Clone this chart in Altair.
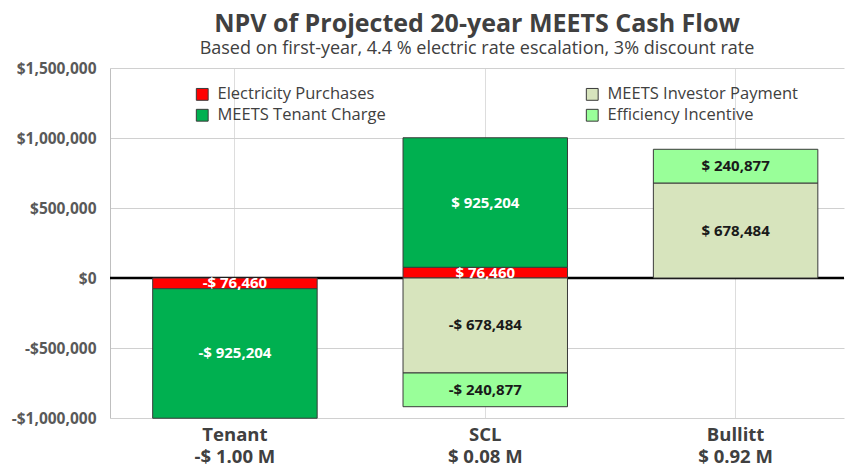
import altair as alt
import pandas as pd

categories = ["Tenant", "SCL", "Bullitt"]
# legend fills column by column: left column EP / TC, right column IP / EI
series = ["Electricity Purchases", "MEETS Tenant Charge", "MEETS Investor Payment", "Efficiency Incentive"]
stack_order = {"Electricity Purchases": 0, "MEETS Tenant Charge": 1,
               "MEETS Investor Payment": 2, "Efficiency Incentive": 3}
colors = ["#FF0000", "#00B050", "#D7E4BD", "#99FF99"]
text_colors = {"Electricity Purchases": "#FFFFFF", "MEETS Tenant Charge": "#FFFFFF",
               "MEETS Investor Payment": "#1A1A1A", "Efficiency Incentive": "#1A1A1A"}

electricity = [-76460, 76460, 0]
tenant_charge = [-925204, 925204, 0]
investor_payment = [0, -678484, 678484]
efficiency = [0, -240877, 240877]

values = {
    "Electricity Purchases": electricity,
    "MEETS Tenant Charge": tenant_charge,
    "MEETS Investor Payment": investor_payment,
    "Efficiency Incentive": efficiency,
}

def money(v):
    s = f"$ {abs(v):,.0f}"
    return ("-" if v < 0 else "") + s

totals = [sum(values[s][i] for s in values) for i in range(len(categories))]
def money_m(v):
    return ("-" if v < 0 else "") + f"$ {abs(v) / 1e6:.2f} M"

labels = [f"{c}\n{money_m(t)}" for c, t in zip(categories, totals)]

rows = []
for s, vals in values.items():
    for i, v in enumerate(vals):
        if v == 0:
            continue
        rows.append({"cat": labels[i], "series": s, "value": v,
                     "ord": stack_order[s], "txt": money(v), "tcol": text_colors[s]})
df = pd.DataFrame(rows)

FONT = "Open Sans"
GREY = "#404040"

xenc = alt.X("cat:N", sort=labels,
             scale=alt.Scale(paddingInner=0.343, paddingOuter=0.1375, align=0.62),
             axis=alt.Axis(title=None, labelAngle=0, ticks=False, domain=False,
                           labelExpr="split(datum.label, '\\n')",
                           labelFontSize=18.5, labelFontWeight="bold", labelColor=GREY,
                           labelFont=FONT, labelPadding=7, labelLineHeight=22))

bars = alt.Chart(df).mark_bar(stroke="#3A3A3A", strokeWidth=1).encode(
    x=xenc,
    y=alt.Y("value:Q", stack="zero",
            scale=alt.Scale(domain=[-1000000, 1500000], nice=False),
            axis=alt.Axis(title=None, values=[-1000000, -500000, 0, 500000, 1000000, 1500000],
                          labelExpr="(datum.value < 0 ? '-' : '') + '$' + format(abs(datum.value), ',')",
                          labelFontSize=15.5, labelFontWeight="bold", labelColor="#595959",
                          labelFont=FONT, ticks=False, domainColor="#BFBFBF",
                          gridColor="#D0D0D0", minExtent=102, maxExtent=102, labelPadding=14)),
    color=alt.Color("series:N", scale=alt.Scale(domain=series, range=colors),
                    legend=alt.Legend(title=None, orient="none", legendX=84, legendY=18,
                                      columns=2, columnPadding=198, rowPadding=4,
                                      symbolType="square", symbolSize=140,
                                      symbolStrokeColor="#3A3A3A", symbolStrokeWidth=1,
                                      labelFontSize=16.5, labelColor=GREY, labelFont=FONT,
                                      labelLimit=400, labelOffset=7)),
    order=alt.Order("ord:Q"),
)

texts = alt.Chart(df).transform_stack(
    stack="value", groupby=["cat"], as_=["y0", "y1"],
    sort=[alt.SortField("ord", order="ascending")], offset="zero"
).transform_calculate(
    ymid="(datum.y0 + datum.y1) / 2"
).mark_text(fontWeight="bold", fontSize=15, font=FONT, baseline="middle").encode(
    x=alt.X("cat:N", sort=labels),
    y=alt.Y("ymid:Q"),
    text="txt:N",
    color=alt.Color("tcol:N", scale=None),
)

zero = alt.Chart(pd.DataFrame({"z": [0]})).mark_rule(color="black", strokeWidth=2.5).encode(
    y=alt.Y("z:Q")
)

chart = alt.layer(zero, bars, texts).properties(
    width=838, height=458,
    autosize=alt.AutoSizeParams(type="fit", contains="padding"),
    padding={"left": 0, "right": 0, "top": 4, "bottom": 0},
    title=alt.TitleParams(
        text="NPV of  Projected 20-year MEETS Cash Flow",
        subtitle="Based on first-year, 4.4 % electric rate escalation, 3% discount rate",
        fontSize=25, fontWeight="bold", color=GREY, font=FONT,
        subtitleFontSize=18, subtitleColor=GREY, subtitleFont=FONT,
        anchor="middle", frame="group", offset=3, subtitlePadding=3),
).configure_view(stroke=None).configure_axis(grid=True)

chart.save("out.html", embed_options={"renderer": "svg", "actions": False})
